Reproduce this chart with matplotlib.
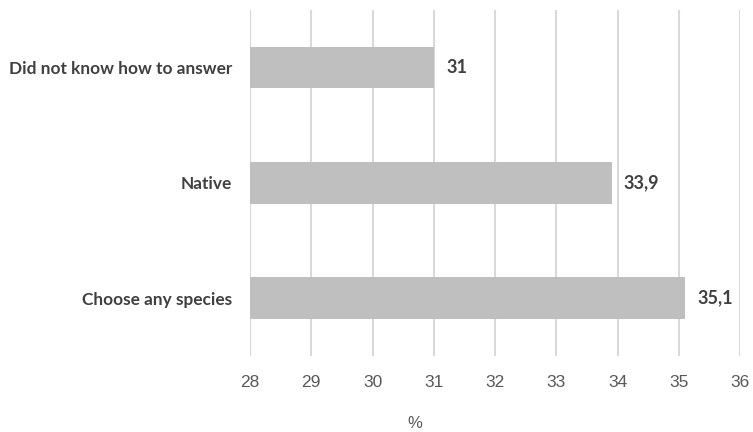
import matplotlib
matplotlib.use("Agg")
import matplotlib.pyplot as plt

categories = ["Did not know how to answer", "Native", "Choose any species"]
values = [31.0, 33.9, 35.1]
value_labels = ["31", "33,9", "35,1"]
xticks = [28, 29, 30, 31, 32, 33, 34, 35, 36]

plt.rcParams["font.family"] = ["Lato", "DejaVu Sans"]

fig = plt.figure(figsize=(7.53, 4.32), dpi=100)
ax = fig.add_axes([0.332, 0.1765, 0.651, 0.8])

ypos = list(range(len(categories)))
ax.barh(ypos, [v - 28 for v in values], left=28, height=0.36,
        color="#bfbfbf", zorder=2)
for y, v, lab in zip(ypos, values, value_labels):
    ax.text(v + 0.2, y, lab, va="center", ha="left", fontsize=13,
            fontweight="bold", color="#404040")

ax.set_xlim(28, 36)
ax.set_ylim(len(categories) - 0.5, -0.5)
ax.set_xticks(xticks)
ax.set_xticklabels([str(t) for t in xticks], fontsize=12.5, color="#595959",
                   family=["Liberation Sans", "DejaVu Sans"])
ax.set_yticks(ypos)
ax.set_yticklabels(categories, fontsize=12.4, fontweight="bold", color="#404040")
ax.tick_params(axis="both", length=0)
ax.tick_params(axis="x", pad=14)
ax.tick_params(axis="y", pad=13)
ax.grid(axis="x", color="#d9d9d9", linewidth=1.5, zorder=0)
for s in ax.spines.values():
    s.set_visible(False)

fig.text(415 / 753, 1 - 424 / 432, "%", ha="center", va="center",
         fontsize=12, color="#595959", family=["Liberation Sans", "DejaVu Sans"])

fig.savefig("out.png", dpi=100)
